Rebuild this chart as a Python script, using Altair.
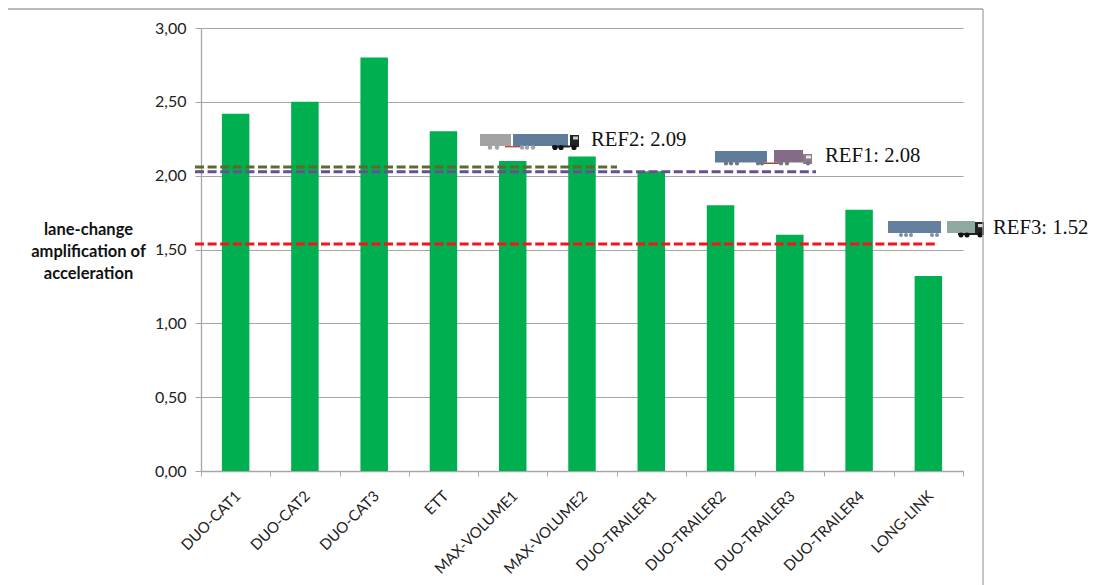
import base64
import altair as alt
import pandas as pd

categories = ["DUO-CAT1", "DUO-CAT2", "DUO-CAT3", "ETT", "MAX-VOLUME1", "MAX-VOLUME2",
              "DUO-TRAILER1", "DUO-TRAILER2", "DUO-TRAILER3", "DUO-TRAILER4", "LONG-LINK"]
values = [2.42, 2.50, 2.80, 2.30, 2.10, 2.13, 2.03, 1.80, 1.60, 1.77, 1.32]
y_title = ["lane-change", "amplification of", "acceleration"]
ref_values = [2.059, 2.027, 1.537]
ref_colors = ["#5b6b2c", "#67508f", "#f5141e"]
ref_ends = [416, 615, 737]
ref_labels = ["REF2: 2.09", "REF1: 2.08", "REF3: 1.52"]
label_x = [390, 624, 792]
label_y = [118, 134, 206]

FONT = "Lato"
FRAME = "#a6a6a6"


def svg_uri(parts, w, h):
    body = ""
    for p in parts:
        kind = p[0]
        if kind == "r":
            body += f'<rect x="{p[1]}" y="{p[2]}" width="{p[3]}" height="{p[4]}" fill="{p[5]}"/>'
        else:
            body += f'<circle cx="{p[1]}" cy="{p[2]}" r="{p[3]}" fill="{p[4]}"/>'
    svg = f'<svg xmlns="http://www.w3.org/2000/svg" width="{w}" height="{h}" viewBox="0 0 {w} {h}">{body}</svg>'
    return "data:image/svg+xml;base64," + base64.b64encode(svg.encode()).decode()


def wheels(xs, cy, r, col):
    return [("c", x, cy, r, col) for x in xs]


truck2 = [("r", 0, 2, 31, 12, "#a3a3a3"), ("r", 33, 2, 55, 12, "#5f7d9b"),
          ("r", 25, 14, 15, 1.4, "#c8463c"), ("r", 72, 13.5, 18, 2, "#222222"),
          ("r", 90, 3, 9, 12, "#222222"), ("r", 93, 4.5, 5, 3, "#cccccc")] + \
    wheels([10, 17, 42, 47, 53], 15.5, 2.2, "#9aa5ae") + wheels([75, 81, 94], 15.5, 2.6, "#111111")
truck1 = [("r", 0, 1, 52, 11.5, "#5f7d9b"), ("r", 59, 0, 29, 12.5, "#836d86"),
          ("r", 42, 12.5, 22, 1.5, "#a04a3f"), ("r", 88, 4, 9, 10, "#8a7a8c"),
          ("r", 91, 5.5, 5, 3, "#e8e8e8")] + \
    wheels([11, 16, 22, 43, 47, 66, 72, 93], 13.5, 2.1, "#70757f")
truck3 = [("r", 0, 1, 53, 12, "#65809f"), ("r", 59, 1, 28, 12, "#8fa99f"),
          ("r", 70, 13, 17, 2, "#222222"), ("r", 87, 2, 9, 13, "#222222"),
          ("r", 90, 4, 5, 3.2, "#d8d8d8")] + \
    wheels([13, 18, 23, 44, 49], 15, 2, "#7b8fa6") + wheels([73, 79, 92], 15, 2.5, "#111111")

bars_df = pd.DataFrame({"cat": categories, "v": values})
x_scale = alt.Scale(domain=categories, paddingInner=0, paddingOuter=0)
y_scale = alt.Scale(domain=[0, 3], nice=False)

bars = alt.Chart(bars_df).mark_bar(color="#00b050", size=27.5).encode(
    x=alt.X("cat:N", sort=categories, scale=x_scale, title=None,
            axis=alt.Axis(labelAngle=-45, labelAlign="right", labelBaseline="middle", labelFont=FONT, labelFontSize=15,
                          labelColor="#222222", labelPadding=17, labelOffset=2, labelOverlap=False, labelLimit=200, tickBand="extent", tickColor=FRAME, tickSize=5,
                          domainColor=FRAME, domainWidth=1.3, grid=False)),
    y=alt.Y("v:Q", scale=y_scale, title=y_title,
            axis=alt.Axis(values=[0, 0.5, 1, 1.5, 2, 2.5, 3], labelExpr="replace(format(datum.value, '.2f'), '.', ',')",
                          labelFont=FONT, labelFontSize=16, labelColor="#222222", labelPadding=9,
                          tickColor=FRAME, tickSize=6, domainColor=FRAME, domainWidth=1.3,
                          grid=True, gridColor=FRAME, gridWidth=1.2,
                          titleFont=FONT, titleFontSize=16.5, titleFontWeight="bold", titleColor="#111111",
                          titleAngle=0, titleAlign="center", titleBaseline="middle", titleLineHeight=22,
                          titleX=-113, titleY=201)),
)

layers = [bars]
for val, col, end in zip(ref_values, ref_colors, ref_ends):
    layers.append(alt.Chart(pd.DataFrame({"v": [val]})).mark_rule(
        color=col, strokeWidth=3, strokeDash=[9, 3.6]).encode(
        x=alt.value(-6), x2=alt.value(end), y=alt.Y("v:Q", scale=y_scale)))

for text, lx, ly in zip(ref_labels, label_x, label_y):
    layers.append(alt.Chart(pd.DataFrame({"t": [text]})).mark_text(
        font="Liberation Serif", fontSize=20.7, color="#111111", align="left", baseline="alphabetic").encode(
        text="t:N", x=alt.value(lx), y=alt.value(ly)))

for parts, ix, iy in [(truck2, 279, 104), (truck1, 514, 122), (truck3, 687, 192)]:
    layers.append(alt.Chart(pd.DataFrame({"u": [svg_uri(parts, 100, 19)]})).mark_image(
        width=100, height=19, align="left", baseline="top").encode(
        url="u:N", x=alt.value(ix), y=alt.value(iy)))

frame_df = pd.DataFrame({"a": [0]})
frame_top = alt.Chart(frame_df).mark_rule(color=FRAME, strokeWidth=1.3).encode(
    x=alt.value(-194), x2=alt.value(782), y=alt.value(-19))
frame_left = alt.Chart(frame_df).mark_rule(color=FRAME, strokeWidth=1.3).encode(
    x=alt.value(-194), y=alt.value(-19), y2=alt.value(557))
frame_right = alt.Chart(frame_df).mark_rule(color=FRAME, strokeWidth=1.3).encode(
    x=alt.value(782), y=alt.value(-19), y2=alt.value(557))
layers += [frame_top, frame_left, frame_right]

chart = alt.layer(*layers).properties(
    width=762, height=443, background="white",
    padding={"left": 193, "top": 20, "right": 128, "bottom": 114},
    autosize=alt.AutoSizeParams(type="none"),
).configure_view(strokeWidth=0)

chart.save("out.html", embed_options={"renderer": "svg", "actions": False})
